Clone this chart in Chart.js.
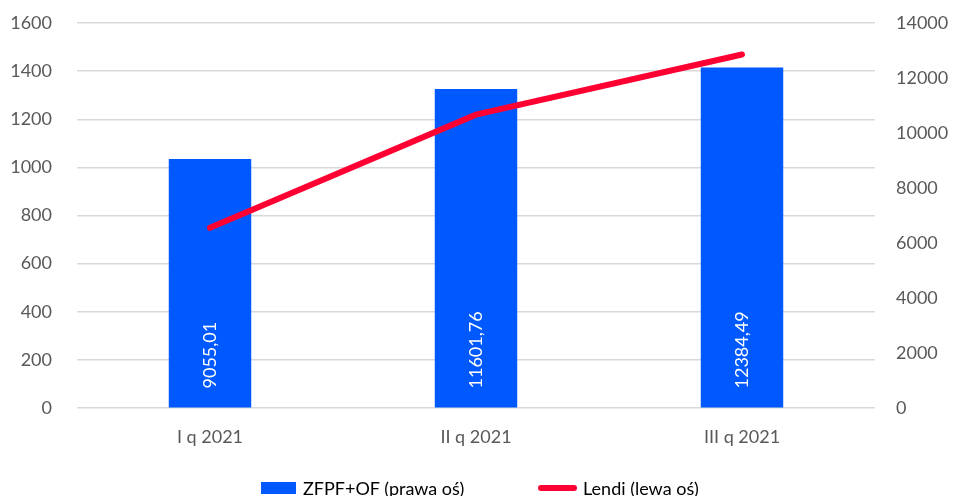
<!DOCTYPE html>
<html>
<head>
<meta charset="utf-8">
<script src="https://cdn.jsdelivr.net/npm/chart.js@4"></script>
<style>
  html, body { margin: 0; padding: 0; background: #fff; overflow: hidden; }
  #wrap { position: relative; width: 954px; height: 496px; overflow: hidden; }
  .legend-item {
    position: absolute; top: 477px; height: 22px;
    display: flex; align-items: center;
    font: 18px Lato; color: #000; white-space: nowrap;
  }
  .legend-item .box { width: 35px; height: 12px; background: #0059FF; margin-right: 7px; }
  .legend-item .line { width: 39px; height: 6px; border-radius: 3px; background: #FF0033; margin-right: 6px; }
</style>
</head>
<body>
<div id="wrap">
  <canvas id="chart" width="954" height="496"></canvas>
  <div class="legend-item" style="left: 261px;"><span class="box"></span><span id="lg-bar"></span></div>
  <div class="legend-item" style="left: 538px;"><span class="line"></span><span id="lg-line"></span></div>
</div>
<script>
// chart data
const quarters = ["I q 2021", "II q 2021", "III q 2021"];
const zfpfValues = [9055.01, 11601.76, 12384.49];   // bars, right axis
const lendiValues = [749, 1219, 1469];              // line, left axis
const leftTicks = [0, 200, 400, 600, 800, 1000, 1200, 1400, 1600];
const rightTicks = [0, 2000, 4000, 6000, 8000, 10000, 12000, 14000];
const seriesNames = ["ZFPF+OF (prawa oś)", "Lendi (lewa oś)"];

// white rotated value labels inside the bars, anchored near the bottom
const barLabels = {
    id: "barLabels",
    afterDatasetsDraw(chart) {
        const meta = chart.getDatasetMeta(0);
        const ctx = chart.ctx;
        ctx.save();
        ctx.fillStyle = "#ffffff";
        ctx.font = "18px Lato";
        ctx.textAlign = "left";
        ctx.textBaseline = "middle";
        meta.data.forEach((bar, i) => {
            const text = zfpfValues[i].toFixed(2).replace(".", ",");
            ctx.save();
            ctx.translate(bar.x, bar.base - 19);
            ctx.rotate(-Math.PI / 2);
            ctx.fillText(text, 0, 0);
            ctx.restore();
        });
        ctx.restore();
    }
};

Chart.defaults.font.family = "Lato";
Chart.defaults.font.size = 18;
Chart.defaults.color = "#595959";

// y scales: no extra label padding, chart area is set by layout padding
function fitY(width) {
    return s => {
        s.width = width;
        s.paddingTop = 0;
        s.paddingBottom = 0;
    };
}

new Chart(document.getElementById("chart"), {
    data: {
        labels: quarters,
        datasets: [
            {
                type: "bar",
                label: seriesNames[0],
                data: zfpfValues,
                yAxisID: "yRight",
                backgroundColor: "#0059FF",
                borderWidth: 0,
                barPercentage: 0.31,
                categoryPercentage: 1,
                order: 2
            },
            {
                type: "line",
                label: seriesNames[1],
                data: lendiValues,
                yAxisID: "yLeft",
                borderColor: "#FF0033",
                backgroundColor: "#FF0033",
                borderWidth: 6,
                borderCapStyle: "round",
                pointRadius: 0,
                tension: 0,
                order: 1
            }
        ]
    },
    options: {
        responsive: false,
        animation: false,
        layout: { padding: { top: 23, left: 0, right: 0, bottom: 37 } },
        plugins: {
            tooltip: { enabled: false },
            legend: { display: false }
        },
        scales: {
            x: {
                grid: { display: false },
                border: { display: false },
                afterFit: s => { s.height = 51; },
                ticks: { padding: 10 }
            },
            yLeft: {
                position: "left",
                min: 0,
                max: 1600,
                afterBuildTicks: s => { s.ticks = leftTicks.map(v => ({ value: v })); },
                afterFit: fitY(77),
                grid: { color: "#D9D9D9", lineWidth: 1.5, drawTicks: false },
                border: { display: false },
                ticks: { padding: 25, callback: v => String(v) }
            },
            yRight: {
                position: "right",
                min: 0,
                max: 14000,
                afterBuildTicks: s => { s.ticks = rightTicks.map(v => ({ value: v })); },
                afterFit: fitY(79),
                grid: { drawOnChartArea: false, drawTicks: false },
                border: { display: false },
                ticks: { padding: 21, callback: v => String(v) }
            }
        }
    },
    plugins: [barLabels]
});

// legend texts
document.getElementById("lg-bar").textContent = seriesNames[0];
document.getElementById("lg-line").textContent = seriesNames[1];
</script>
</body>
</html>
